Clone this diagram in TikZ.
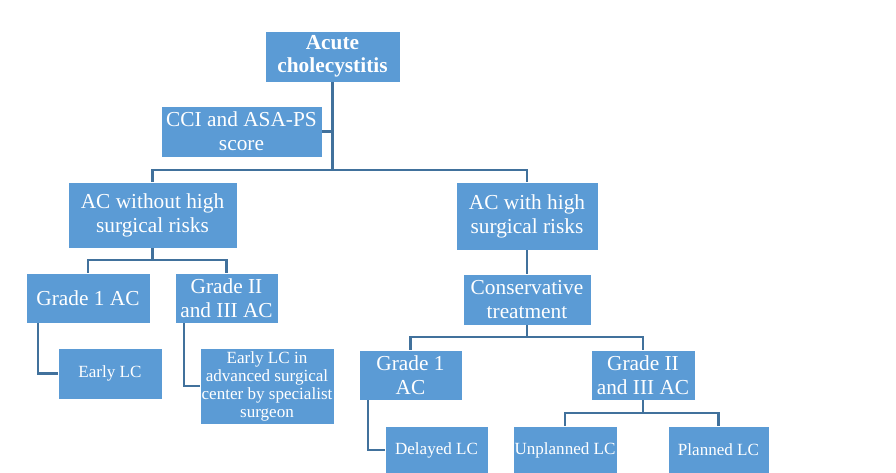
\documentclass[tikz,border=0pt]{standalone}
\usepackage{fontspec}
\setmainfont{Liberation Serif}
\usepackage{xcolor}
\definecolor{boxblue}{RGB}{91,155,213}
\definecolor{lineblue}{RGB}{65,113,156}

\begin{document}
\begin{tikzpicture}[
    x=0.75pt, y=-0.75pt,
    box/.style={rectangle, draw=white, line width=0.6pt, fill=boxblue, text=white,
                align=center, inner xsep=0pt, inner ysep=1pt},
    bigtxt/.style={font=\fontsize{16}{18}\selectfont},
    smalltxt/.style={font=\fontsize{12.8}{13.5}\selectfont},
    conn/.style={draw=lineblue, line width=1.6pt}
]
\useasboundingbox (0,0) rectangle (896,472);

% Root
\node[box, font=\fontsize{16}{17}\selectfont\bfseries, minimum width=101.25pt, minimum height=38.25pt]
    (acute) at (332.5,56.5) {Acute\\cholecystitis};
\node[box, bigtxt, minimum width=120.75pt, minimum height=38.25pt]
    (cci) at (241.5,131.5) {CCI and ASA-PS\\score};

% Risk groups
\node[box, bigtxt, minimum width=126.75pt, minimum height=49.5pt]
    (nohigh) at (152.5,215) {AC without high\\surgical risks};
\node[box, bigtxt, minimum width=106.5pt, minimum height=51pt]
    (high) at (527,216) {AC with high\\surgical risks};

% Left branch
\node[box, bigtxt, minimum width=93pt, minimum height=37.5pt]
    (gradeIl) at (88,298) {Grade 1 AC};
\node[box, bigtxt, minimum width=77.25pt, minimum height=37.5pt]
    (gradeIIl) at (226.5,298) {Grade II\\and III AC};
\node[box, smalltxt, minimum width=78pt, minimum height=38.25pt]
    (early) at (110,373.5) {Early LC};
\node[box, smalltxt, minimum width=100.5pt, minimum height=57pt]
    (advanced) at (267,386) {Early LC in\\advanced surgical\\center by specialist\\surgeon};

% Right branch
\node[box, bigtxt, minimum width=96pt, minimum height=38.25pt]
    (cons) at (527,299.5) {Conservative\\treatment};
\node[box, bigtxt, minimum width=77.25pt, minimum height=37.5pt]
    (gradeIr) at (410.5,375) {Grade 1\\AC};
\node[box, bigtxt, minimum width=78pt, minimum height=37.5pt]
    (gradeIIr) at (643,375) {Grade II\\and III AC};
\node[box, smalltxt, minimum width=77.25pt, minimum height=36pt]
    (delayed) at (436.5,450) {Delayed LC};
\node[box, smalltxt, minimum width=78pt, minimum height=36pt]
    (unplanned) at (565,450) {Unplanned LC};
\node[box, smalltxt, minimum width=75.75pt, minimum height=36pt]
    (planned) at (718.5,450) {Planned LC};

% Bus points
\coordinate (bus1) at (332.5,170);
\coordinate (bus2) at (152.5,260);
\coordinate (bus3) at (527,337);
\coordinate (bus4) at (643,413);

% Connectors
\draw[conn] (acute.south) -- (bus1);
\draw[conn] (cci.east) -- (cci.east -| bus1);
\draw[conn] (nohigh.north) |- (bus1) -| (high.north);
\draw[conn] (nohigh.south) -- (bus2);
\draw[conn] (gradeIl.north) |- (bus2) -| (gradeIIl.north);
\draw[conn] ([xshift=9pt]gradeIl.south west) |- (early.west);
\draw[conn] ([xshift=6.75pt]gradeIIl.south west) |- (advanced.west);
\draw[conn] (high.south) -- (cons.north);
\draw[conn] (cons.south) -- (bus3);
\draw[conn] (gradeIr.north) |- (bus3) -| (gradeIIr.north);
\draw[conn] ([xshift=6.75pt]gradeIr.south west) |- (delayed.west);
\draw[conn] (gradeIIr.south) -- (bus4);
\draw[conn] (unplanned.north) |- (bus4) -| (planned.north);

\end{tikzpicture}
\end{document}
